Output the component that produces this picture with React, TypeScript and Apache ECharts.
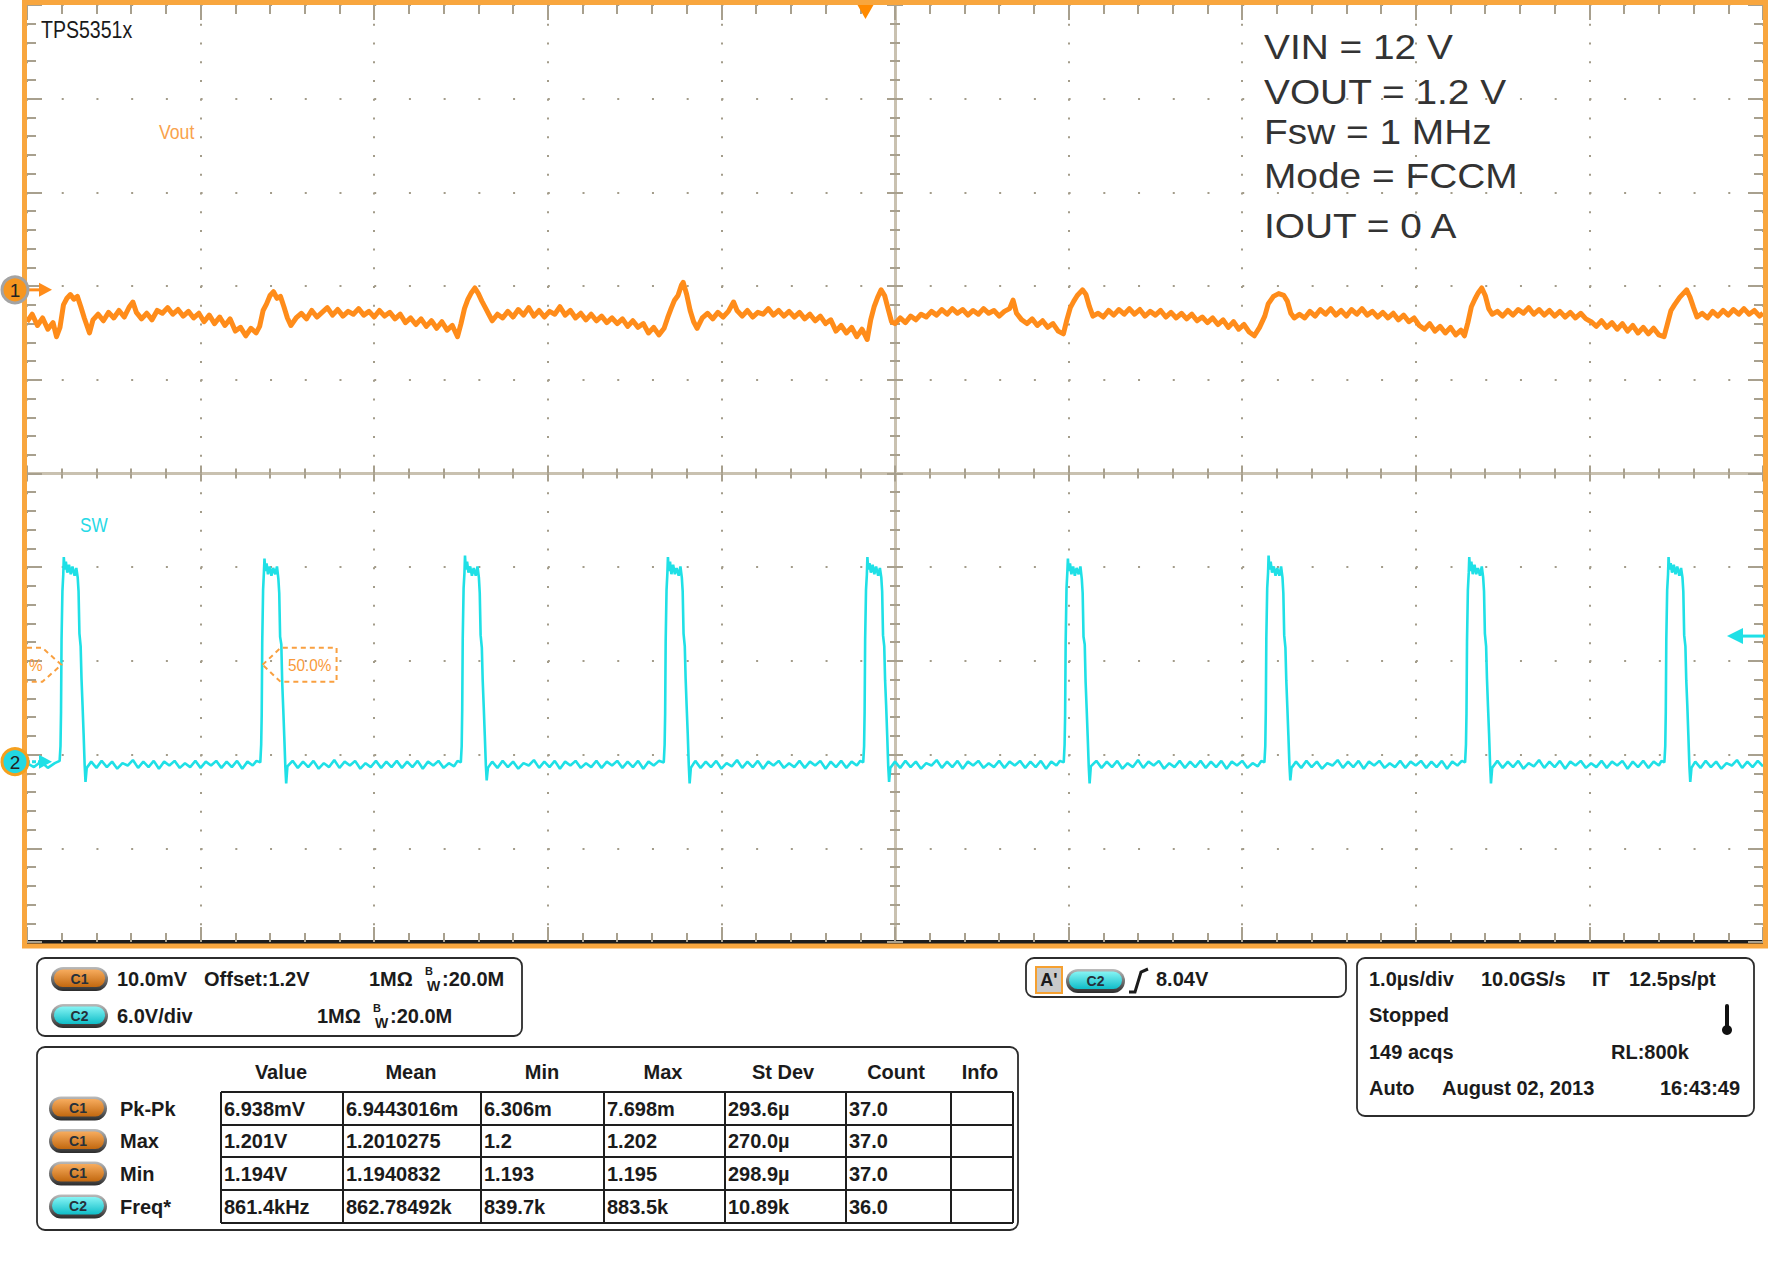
import React, { useEffect, useRef } from 'react';
import * as echarts from 'echarts';

// ---------------- data ----------------
const scopeTitle = 'TPS5351x';
const traceNames = ['Vout', 'SW'];
const conditionLines = ['VIN = 12 V', 'VOUT = 1.2 V', 'Fsw = 1 MHz', 'Mode = FCCM', 'IOUT = 0 A'];

// time axis: 1.0 µs/div, 10 divisions
const timeRangeUs = [0, 10];
// C1 (Vout): 10 mV/div, offset 1.2 V -> values in mV relative to 1.2 V
const voutRangeMv = [-69.6, 30.4];
// C2 (SW): 6 V/div
const swRangeV = [-11.55, 48.45];
const triggerTimeUs = 4.83;
const triggerLevelV = 8.04;
const refLevelV = 6.2;
const refCrossTimesUs = [0.198, 1.357];
const refLabel = '50.0%';

// Vout ripple [time µs, mV relative to 1.2 V]
const voutRippleMv = [
  [0.00,-3.4],[0.03,-2.6],[0.06,-3.8],[0.09,-3.0],[0.12,-4.2],[0.15,-3.5],[0.17,-5.0],[0.19,-4.0],
  [0.21,-1.6],[0.23,-0.9],[0.25,-0.5],[0.27,-1.0],[0.29,-0.7],[0.31,-1.8],[0.33,-3.0],[0.36,-4.6],
  [0.38,-3.2],[0.41,-2.6],[0.44,-3.3],[0.47,-2.4],[0.50,-3.0],[0.53,-2.2],[0.56,-2.9],[0.59,-1.8],
  [0.61,-1.3],[0.63,-2.4],[0.66,-3.1],[0.69,-2.5],[0.72,-3.2],[0.75,-2.2],[0.78,-2.5],[0.81,-1.9],
  [0.84,-2.6],[0.87,-2.1],[0.90,-2.8],[0.93,-2.3],[0.96,-3.0],[0.99,-2.5],[1.02,-3.4],[1.05,-2.7],
  [1.08,-3.6],[1.11,-2.9],[1.14,-3.8],[1.17,-3.1],[1.20,-4.4],[1.23,-4.0],[1.26,-4.9],[1.29,-4.1],
  [1.32,-4.6],[1.34,-3.9],[1.36,-2.2],[1.38,-1.5],[1.40,-0.6],[1.42,-0.2],[1.44,-0.9],[1.46,-0.7],
  [1.48,-1.8],[1.50,-3.0],[1.52,-3.8],[1.55,-3.0],[1.58,-2.5],[1.61,-3.1],[1.64,-2.2],[1.67,-2.9],
  [1.70,-2.4],[1.73,-1.9],[1.76,-2.7],[1.79,-2.1],[1.82,-2.8],[1.85,-2.3],[1.88,-2.6],[1.91,-2.0],
  [1.94,-2.7],[1.97,-2.3],[2.00,-2.9],[2.03,-2.2],[2.06,-2.8],[2.09,-2.4],[2.12,-3.1],[2.15,-2.6],
  [2.18,-3.5],[2.21,-3.0],[2.24,-3.7],[2.27,-3.1],[2.30,-3.9],[2.33,-3.3],[2.36,-4.1],[2.39,-3.4],
  [2.42,-4.3],[2.45,-3.8],[2.48,-5.0],[2.50,-3.6],[2.52,-2.0],[2.54,-1.0],[2.56,-0.3],[2.58,0.2],
  [2.60,-0.4],[2.62,-1.2],[2.64,-1.9],[2.66,-2.6],[2.68,-3.3],[2.71,-2.6],[2.74,-3.0],[2.77,-2.3],
  [2.80,-2.9],[2.83,-2.1],[2.86,-2.7],[2.89,-1.9],[2.92,-2.8],[2.95,-2.2],[2.98,-2.9],[3.01,-2.3],
  [3.04,-2.6],[3.07,-1.8],[3.10,-2.7],[3.13,-2.2],[3.16,-3.0],[3.19,-2.5],[3.22,-3.2],[3.25,-2.6],
  [3.28,-3.3],[3.31,-2.8],[3.34,-3.5],[3.37,-3.0],[3.40,-3.6],[3.43,-3.1],[3.46,-3.9],[3.49,-3.3],
  [3.52,-4.0],[3.55,-3.6],[3.58,-4.6],[3.61,-4.0],[3.64,-4.8],[3.67,-4.1],[3.69,-3.0],[3.71,-2.0],
  [3.73,-1.1],[3.75,-0.6],[3.77,0.5],[3.78,0.8],[3.80,-0.5],[3.82,-2.2],[3.84,-3.4],[3.86,-4.1],
  [3.89,-3.0],[3.92,-2.5],[3.95,-3.1],[3.98,-2.4],[4.01,-2.9],[4.04,-2.3],[4.07,-1.3],[4.09,-2.2],
  [4.12,-2.8],[4.15,-2.2],[4.18,-2.9],[4.21,-2.4],[4.24,-2.6],[4.27,-2.0],[4.30,-2.7],[4.33,-2.2],
  [4.36,-2.8],[4.39,-2.3],[4.42,-2.9],[4.45,-2.4],[4.48,-3.1],[4.51,-2.6],[4.54,-3.3],[4.57,-2.8],
  [4.60,-3.6],[4.63,-3.2],[4.66,-4.4],[4.69,-3.8],[4.72,-4.6],[4.75,-4.0],[4.78,-5.0],[4.81,-4.2],
  [4.84,-5.3],[4.86,-3.2],[4.88,-1.8],[4.90,-0.8],[4.92,0.0],[4.94,-0.6],[4.96,-2.0],[4.98,-3.4],
  [5.00,-3.6],[5.03,-3.0],[5.06,-3.5],[5.09,-2.8],[5.12,-3.2],[5.15,-2.6],[5.18,-2.9],[5.21,-2.3],
  [5.24,-2.7],[5.27,-2.1],[5.30,-2.6],[5.33,-2.0],[5.36,-2.5],[5.39,-2.1],[5.42,-2.7],[5.45,-2.2],
  [5.48,-2.6],[5.51,-2.0],[5.54,-2.5],[5.57,-2.2],[5.60,-2.8],[5.63,-2.3],[5.66,-2.0],[5.68,-1.1],
  [5.70,-2.5],[5.73,-3.2],[5.76,-3.6],[5.79,-3.1],[5.82,-3.8],[5.85,-3.3],[5.88,-4.0],[5.91,-3.6],
  [5.94,-4.4],[5.97,-4.7],[5.99,-3.2],[6.01,-1.9],[6.03,-1.2],[6.05,-0.6],[6.08,0.0],[6.10,-0.5],
  [6.12,-1.8],[6.14,-2.8],[6.17,-2.5],[6.20,-2.9],[6.23,-2.2],[6.26,-2.7],[6.29,-2.1],[6.32,-2.6],
  [6.35,-2.0],[6.38,-2.6],[6.41,-2.1],[6.44,-2.8],[6.47,-2.3],[6.50,-2.7],[6.53,-2.2],[6.56,-2.9],
  [6.59,-2.4],[6.62,-3.0],[6.65,-2.5],[6.68,-3.1],[6.71,-2.6],[6.74,-3.3],[6.77,-2.9],[6.80,-3.5],
  [6.83,-3.0],[6.86,-3.7],[6.89,-3.2],[6.92,-4.0],[6.95,-3.4],[6.98,-4.2],[7.01,-3.7],[7.04,-4.5],
  [7.07,-4.9],[7.10,-4.0],[7.13,-2.8],[7.15,-1.5],[7.18,-0.7],[7.21,-0.4],[7.24,-0.6],[7.26,-1.2],
  [7.28,-2.5],[7.30,-3.0],[7.33,-2.6],[7.36,-3.0],[7.39,-2.3],[7.42,-2.8],[7.45,-2.1],[7.48,-2.6],
  [7.51,-2.0],[7.54,-2.7],[7.57,-2.2],[7.60,-2.8],[7.63,-2.1],[7.66,-2.6],[7.69,-2.0],[7.72,-2.7],
  [7.75,-2.3],[7.78,-2.9],[7.81,-2.4],[7.84,-3.0],[7.87,-2.5],[7.90,-3.2],[7.93,-2.7],[7.96,-3.4],
  [7.99,-3.0],[8.02,-3.8],[8.05,-4.2],[8.08,-3.6],[8.11,-4.4],[8.14,-3.9],[8.17,-4.6],[8.20,-4.0],
  [8.23,-4.8],[8.26,-4.3],[8.28,-4.9],[8.30,-3.5],[8.32,-1.8],[8.34,-1.0],[8.36,-0.3],[8.38,0.2],
  [8.40,-0.6],[8.42,-2.0],[8.44,-2.6],[8.47,-2.3],[8.50,-2.8],[8.53,-2.2],[8.56,-2.7],[8.59,-2.1],
  [8.62,-2.5],[8.65,-1.9],[8.68,-2.6],[8.71,-2.1],[8.74,-2.7],[8.77,-2.2],[8.80,-2.8],[8.83,-2.3],
  [8.86,-2.9],[8.89,-2.4],[8.92,-3.0],[8.95,-2.5],[8.98,-3.1],[9.01,-3.4],[9.04,-3.9],[9.07,-3.3],
  [9.10,-4.0],[9.13,-3.5],[9.16,-4.2],[9.19,-3.6],[9.22,-4.4],[9.25,-3.8],[9.28,-4.6],[9.31,-4.0],
  [9.34,-4.7],[9.37,-4.1],[9.40,-4.8],[9.43,-5.0],[9.45,-3.6],[9.47,-2.2],[9.49,-1.6],[9.52,-0.8],
  [9.54,-0.4],[9.56,0.0],[9.58,-0.8],[9.60,-1.9],[9.62,-2.9],[9.65,-2.5],[9.68,-3.0],[9.71,-2.3],
  [9.74,-2.8],[9.77,-2.2],[9.80,-2.7],[9.83,-2.1],[9.86,-2.6],[9.89,-2.0],[9.92,-2.6],[9.95,-2.2],
  [9.98,-2.8],[10.00,-2.5],
];

// Switch node [time µs, V]
const swVolts = [
  [0.000,-0.1],[0.040,-0.35],[0.080,0.0],[0.120,-0.4],[0.160,-0.1],[0.188,0.05],
  [0.193,1.0],[0.196,3.2],[0.199,7.8],[0.204,10.9],[0.209,12.0],[0.212,13.1],[0.217,12.3],[0.224,12.8],
  [0.232,12.1],[0.242,12.6],[0.252,12.0],[0.262,12.5],[0.274,11.9],[0.284,12.4],[0.292,11.8],[0.297,10.9],
  [0.302,8.2],[0.309,7.4],[0.314,5.3],[0.320,3.6],[0.326,1.8],[0.332,-0.2],[0.337,-1.3],[0.344,-0.4],
  [0.37,0.0],[0.40,-0.4],[0.43,0.05],[0.46,-0.35],[0.49,0.0],[0.52,-0.45],[0.55,-0.1],[0.58,-0.25],[0.61,0.1],
  [0.64,-0.4],[0.67,0.0],[0.70,-0.35],[0.73,0.05],[0.76,-0.45],[0.79,0.0],[0.82,-0.25],[0.85,0.05],[0.88,-0.4],
  [0.91,-0.1],[0.94,-0.35],[0.97,0.05],[1.00,-0.4],[1.03,0.0],[1.06,-0.25],[1.09,0.05],[1.12,-0.4],[1.15,0.0],
  [1.18,-0.35],[1.21,0.05],[1.24,-0.45],[1.27,0.0],[1.30,-0.25],[1.322,0.05],[1.344,-0.05],
  [1.349,1.1],[1.352,3.0],[1.355,7.6],[1.360,11.0],[1.365,12.2],[1.368,13.0],[1.373,12.2],[1.380,12.7],
  [1.388,12.0],[1.398,12.5],[1.408,11.9],[1.418,12.4],[1.430,12.0],[1.440,12.5],[1.448,11.7],[1.453,10.8],
  [1.458,8.0],[1.465,7.5],[1.470,5.1],[1.476,3.4],[1.482,1.6],[1.488,-0.3],[1.493,-1.4],[1.500,-0.3],
  [1.53,0.05],[1.56,-0.4],[1.59,0.0],[1.62,-0.35],[1.65,0.05],[1.68,-0.45],[1.71,-0.1],[1.74,-0.35],[1.77,0.1],
  [1.80,-0.4],[1.83,0.0],[1.86,-0.25],[1.89,0.05],[1.92,-0.45],[1.95,-0.1],[1.98,-0.35],[2.01,0.05],[2.04,-0.4],
  [2.07,0.0],[2.10,-0.35],[2.13,0.05],[2.16,-0.4],[2.19,0.0],[2.22,-0.35],[2.25,0.05],[2.28,-0.45],[2.31,0.0],
  [2.34,-0.25],[2.37,0.05],[2.40,-0.4],[2.43,-0.1],[2.46,-0.3],[2.48,0.05],[2.499,-0.05],
  [2.504,1.0],[2.507,3.3],[2.510,7.9],[2.515,11.1],[2.520,12.1],[2.523,13.2],[2.528,12.3],[2.535,12.8],
  [2.543,12.1],[2.553,12.5],[2.563,11.9],[2.573,12.4],[2.585,11.9],[2.595,12.5],[2.603,11.8],[2.608,10.8],
  [2.613,8.1],[2.620,7.3],[2.625,5.2],[2.631,3.5],[2.637,1.7],[2.643,-0.2],[2.648,-1.2],[2.655,-0.4],
  [2.68,0.0],[2.71,-0.4],[2.74,0.05],[2.77,-0.35],[2.80,0.0],[2.83,-0.45],[2.86,-0.1],[2.89,-0.25],[2.92,0.1],
  [2.95,-0.4],[2.98,0.0],[3.01,-0.35],[3.04,0.05],[3.07,-0.45],[3.10,0.0],[3.13,-0.25],[3.16,0.05],[3.19,-0.4],
  [3.22,-0.1],[3.25,-0.35],[3.28,0.05],[3.31,-0.4],[3.34,0.0],[3.37,-0.25],[3.40,0.05],[3.43,-0.4],[3.46,0.0],
  [3.49,-0.35],[3.52,0.05],[3.55,-0.45],[3.58,0.0],[3.61,-0.25],[3.64,0.05],[3.668,-0.05],
  [3.673,1.1],[3.676,3.1],[3.679,7.7],[3.684,11.0],[3.689,12.1],[3.692,13.1],[3.697,12.2],[3.704,12.8],
  [3.712,12.0],[3.722,12.6],[3.732,12.0],[3.742,12.4],[3.754,11.9],[3.764,12.5],[3.772,11.8],[3.777,10.9],
  [3.782,8.2],[3.789,7.4],[3.794,5.3],[3.800,3.5],[3.806,1.8],[3.812,-0.2],[3.817,-1.4],[3.824,-0.4],
  [3.85,0.05],[3.88,-0.4],[3.91,0.0],[3.94,-0.35],[3.97,0.05],[4.00,-0.45],[4.03,-0.1],[4.06,-0.3],[4.09,0.1],
  [4.12,-0.4],[4.15,0.0],[4.18,-0.35],[4.21,0.05],[4.24,-0.45],[4.27,0.0],[4.30,-0.25],[4.33,0.05],[4.36,-0.4],
  [4.39,-0.1],[4.42,-0.35],[4.45,0.05],[4.48,-0.4],[4.51,0.0],[4.54,-0.25],[4.57,0.05],[4.60,-0.45],[4.63,0.0],
  [4.66,-0.35],[4.69,0.05],[4.72,-0.4],[4.75,0.0],[4.78,-0.25],[4.80,0.05],[4.817,-0.05],
  [4.822,1.0],[4.825,3.2],[4.828,7.8],[4.833,11.0],[4.838,12.0],[4.841,13.1],[4.846,12.3],[4.853,12.7],
  [4.861,12.1],[4.871,12.6],[4.881,12.0],[4.891,12.5],[4.903,11.9],[4.913,12.4],[4.921,11.8],[4.926,10.9],
  [4.931,8.1],[4.938,7.4],[4.943,5.2],[4.949,3.6],[4.955,1.7],[4.961,-0.3],[4.966,-1.3],[4.973,-0.4],
  [5.00,0.0],[5.03,-0.4],[5.06,0.05],[5.09,-0.35],[5.12,0.0],[5.15,-0.45],[5.18,-0.1],[5.21,-0.25],[5.24,0.1],
  [5.27,-0.4],[5.30,0.0],[5.33,-0.35],[5.36,0.05],[5.39,-0.45],[5.42,0.0],[5.45,-0.25],[5.48,0.05],[5.51,-0.4],
  [5.54,-0.1],[5.57,-0.35],[5.60,0.05],[5.63,-0.4],[5.66,0.0],[5.69,-0.25],[5.72,0.05],[5.75,-0.4],[5.78,0.0],
  [5.81,-0.35],[5.84,0.05],[5.87,-0.45],[5.90,0.0],[5.93,-0.25],[5.95,0.05],[5.972,-0.05],
  [5.977,1.1],[5.980,3.0],[5.983,7.6],[5.988,11.1],[5.993,12.2],[5.996,13.0],[6.001,12.2],[6.008,12.7],
  [6.016,12.0],[6.026,12.5],[6.036,11.9],[6.046,12.4],[6.058,12.0],[6.068,12.5],[6.076,11.7],[6.081,10.8],
  [6.086,8.0],[6.093,7.5],[6.098,5.1],[6.104,3.4],[6.110,1.6],[6.116,-0.3],[6.121,-1.4],[6.128,-0.3],
  [6.16,0.05],[6.19,-0.4],[6.22,0.0],[6.25,-0.35],[6.28,0.05],[6.31,-0.45],[6.34,-0.1],[6.37,-0.35],[6.40,0.1],
  [6.43,-0.4],[6.46,0.0],[6.49,-0.25],[6.52,0.05],[6.55,-0.45],[6.58,-0.1],[6.61,-0.35],[6.64,0.05],[6.67,-0.4],
  [6.70,0.0],[6.73,-0.35],[6.76,0.05],[6.79,-0.4],[6.82,0.0],[6.85,-0.35],[6.88,0.05],[6.91,-0.45],[6.94,0.0],
  [6.97,-0.25],[7.00,0.05],[7.03,-0.4],[7.06,-0.1],[7.09,-0.3],[7.11,0.05],[7.128,-0.05],
  [7.133,1.0],[7.136,3.3],[7.139,7.9],[7.144,11.1],[7.149,12.1],[7.152,13.2],[7.157,12.3],[7.164,12.8],
  [7.172,12.1],[7.182,12.5],[7.192,11.9],[7.202,12.4],[7.214,11.9],[7.224,12.5],[7.232,11.8],[7.237,10.8],
  [7.242,8.1],[7.249,7.3],[7.254,5.2],[7.260,3.5],[7.266,1.7],[7.272,-0.2],[7.277,-1.2],[7.284,-0.4],
  [7.31,0.0],[7.34,-0.4],[7.37,0.05],[7.40,-0.35],[7.43,0.0],[7.46,-0.45],[7.49,-0.1],[7.52,-0.25],[7.55,0.1],
  [7.58,-0.4],[7.61,0.0],[7.64,-0.35],[7.67,0.05],[7.70,-0.45],[7.73,0.0],[7.76,-0.25],[7.79,0.05],[7.82,-0.4],
  [7.85,-0.1],[7.88,-0.35],[7.91,0.05],[7.94,-0.4],[7.97,0.0],[8.00,-0.25],[8.03,0.05],[8.06,-0.4],[8.09,0.0],
  [8.12,-0.35],[8.15,0.05],[8.18,-0.45],[8.21,0.0],[8.24,-0.25],[8.265,0.05],[8.284,-0.05],
  [8.289,1.1],[8.292,3.1],[8.295,7.7],[8.300,11.0],[8.305,12.1],[8.308,13.1],[8.313,12.2],[8.320,12.8],
  [8.328,12.0],[8.338,12.6],[8.348,12.0],[8.358,12.4],[8.370,11.9],[8.380,12.5],[8.388,11.8],[8.393,10.9],
  [8.398,8.2],[8.405,7.4],[8.410,5.3],[8.416,3.5],[8.422,1.8],[8.428,-0.2],[8.433,-1.4],[8.440,-0.4],
  [8.47,0.05],[8.50,-0.4],[8.53,0.0],[8.56,-0.35],[8.59,0.05],[8.62,-0.45],[8.65,-0.1],[8.68,-0.3],[8.71,0.1],
  [8.74,-0.4],[8.77,0.0],[8.80,-0.35],[8.83,0.05],[8.86,-0.45],[8.89,0.0],[8.92,-0.25],[8.95,0.05],[8.98,-0.4],
  [9.01,-0.1],[9.04,-0.35],[9.07,0.05],[9.10,-0.4],[9.13,0.0],[9.16,-0.25],[9.19,0.05],[9.22,-0.45],[9.25,0.0],
  [9.28,-0.35],[9.31,0.05],[9.34,-0.4],[9.37,0.0],[9.40,-0.25],[9.415,0.05],[9.432,-0.05],
  [9.437,1.0],[9.440,3.2],[9.443,7.8],[9.448,11.0],[9.453,12.0],[9.456,13.1],[9.461,12.3],[9.468,12.7],
  [9.476,12.1],[9.486,12.6],[9.496,12.0],[9.506,12.5],[9.518,11.9],[9.528,12.4],[9.536,11.8],[9.541,10.9],
  [9.546,8.1],[9.553,7.4],[9.558,5.2],[9.564,3.6],[9.570,1.7],[9.576,-0.3],[9.581,-1.3],[9.588,-0.4],
  [9.61,0.0],[9.64,-0.4],[9.67,0.05],[9.70,-0.35],[9.73,0.0],[9.76,-0.45],[9.79,-0.1],[9.82,-0.25],[9.85,0.1],
  [9.88,-0.4],[9.91,0.0],[9.94,-0.35],[9.97,0.05],[10.00,-0.3],
];

// Readout panels
const ch1Setup = ['10.0mV', 'Offset:1.2V', '1MΩ', ':20.0M'];
const ch2Setup = ['6.0V/div', '1MΩ', ':20.0M'];
const triggerReadout = ["A'", 'C2', '8.04V'];
const acqRows = [
  ['1.0µs/div', '10.0GS/s', 'IT', '12.5ps/pt'],
  ['Stopped'],
  ['149 acqs', 'RL:800k'],
  ['Auto', 'August 02, 2013', '16:43:49'],
];
const measureHeaders = ['Value', 'Mean', 'Min', 'Max', 'St Dev', 'Count', 'Info'];
const measureChannels = ['C1', 'C1', 'C1', 'C2'];
const measureNames = ['Pk-Pk', 'Max', 'Min', 'Freq*'];
const measureValues = [
  ['6.938mV', '6.9443016m', '6.306m', '7.698m', '293.6µ', '37.0', ''],
  ['1.201V', '1.2010275', '1.2', '1.202', '270.0µ', '37.0', ''],
  ['1.194V', '1.1940832', '1.193', '1.195', '298.9µ', '37.0', ''],
  ['861.4kHz', '862.78492k', '839.7k', '883.5k', '10.89k', '36.0', ''],
];

// ---------------- styling / layout ----------------
const FONT = '"Liberation Sans", Arial, Helvetica, sans-serif';
const ORANGE = '#FF8C1A';
const CYAN = '#1FE0E6';
const FRAME = '#F8A63E';
const DOT = '#A39C8A';
const TICK = '#A8A08E';
const CENTER = '#C9C1B0';
const GRID = { left: 27, top: 5, width: 1736, height: 937 };

const tickSet = (inside: boolean, len: number, minorLen: number) => ({
  axisTick: { show: true, inside, length: len, lineStyle: { color: TICK, width: 2 } },
  minorTick: { show: true, splitNumber: 5, length: minorLen, lineStyle: { color: TICK, width: 2 } },
});
const divAxis = (extra: any) => ({
  type: 'value', min: -5, max: 5, interval: 1,
  axisLabel: { show: false }, splitLine: { show: false }, ...extra,
});

function txt(text: string, x: number, y: number, o: any = {}) {
  return {
    type: 'text', x, y, z: o.z ?? 60, scaleX: o.scaleX ?? 1,
    style: {
      text, x: 0, y: 0,
      font: `${o.weight ?? 'bold'} ${o.size ?? 20}px ${FONT}`,
      fill: o.color ?? '#1b1b1b',
      align: o.align ?? 'left', verticalAlign: 'middle',
    },
  };
}

function pill(x: number, y: number, w: number, h: number, label: string, tone: string) {
  const inner = tone === 'orange' ? ['#F7AC5E', '#C2680F'] : ['#86F4F4', '#0FBDC8'];
  return [
    { type: 'rect', z: 61, shape: { x, y, width: w, height: h, r: h / 2 },
      style: { fill: new echarts.graphic.LinearGradient(0, 0, 0, 1, [{ offset: 0, color: '#BDBDBD' }, { offset: 1, color: '#2B2B2B' }]) } },
    { type: 'rect', z: 62, shape: { x: x + 3, y: y + 2.5, width: w - 6, height: h - 6.5, r: (h - 6.5) / 2 },
      style: { fill: new echarts.graphic.LinearGradient(0, 0, 0, 1, [{ offset: 0, color: inner[0] }, { offset: 1, color: inner[1] }]) } },
    { type: 'text', z: 63, style: { text: label, x: x + w / 2, y: y + h / 2 - 0.5, align: 'center', verticalAlign: 'middle', font: `bold 14px ${FONT}`, fill: '#26303a' } },
  ];
}

function panel(x: number, y: number, w: number, h: number) {
  return { type: 'rect', z: 55, shape: { x, y, width: w, height: h, r: 8 }, style: { fill: '#fff', stroke: '#2c2c2c', lineWidth: 1.8 } };
}

function hline(x1: number, x2: number, y: number, color = '#1e1e1e', w = 2) {
  return { type: 'line', z: 58, shape: { x1, y1: y, x2, y2: y }, style: { stroke: color, lineWidth: w } };
}
function vline(x: number, y1: number, y2: number, color = '#1e1e1e', w = 2) {
  return { type: 'line', z: 58, shape: { x1: x, y1, x2: x, y2 }, style: { stroke: color, lineWidth: w } };
}

// "B" raised and "W" lowered, as the scope draws its bandwidth-limit mark
function bwLabel(x: number, y: number, rest: string) {
  return [
    txt('B', x, y - 8, { size: 11 }),
    txt('W', x + 2, y + 7, { size: 14 }),
    txt(rest, x + 17, y, { size: 20 }),
  ];
}

export default function App() {
  const ref = useRef<HTMLDivElement>(null);

  useEffect(() => {
    const chart = echarts.init(ref.current!, null, { renderer: 'svg' });
    const option: any = {
      animation: false,
      backgroundColor: '#ffffff',
      grid: { ...GRID, show: false },
      xAxis: [
        divAxis({
          position: 'bottom',
          axisLine: { show: true, onZero: false, lineStyle: { color: '#1c1c1c', width: 4 } },
          ...tickSet(true, 15, 9),
          splitLine: { show: true, lineStyle: { color: DOT, width: 2, type: [2, GRID.height / 50 - 2] } },
        }),
        divAxis({ position: 'top', axisLine: { show: false, onZero: false }, ...tickSet(true, 15, 9) }),
        divAxis({ position: 'bottom', axisLine: { show: true, onZero: true, onZeroAxisIndex: 0, lineStyle: { color: CENTER, width: 3 } }, ...tickSet(true, 8, 5) }),
        divAxis({ position: 'bottom', axisLine: { show: true, onZero: true, onZeroAxisIndex: 0, lineStyle: { color: CENTER, width: 3 } }, ...tickSet(false, 8, 5) }),
        { type: 'value', min: timeRangeUs[0], max: timeRangeUs[1], show: false, splitLine: { show: false } },
      ],
      yAxis: [
        divAxis({
          position: 'left',
          axisLine: { show: false, onZero: false },
          ...tickSet(true, 15, 9),
          splitLine: { show: true, lineStyle: { color: DOT, width: 2, type: [2, GRID.width / 50 - 2] } },
        }),
        divAxis({ position: 'right', axisLine: { show: false, onZero: false }, ...tickSet(true, 15, 9) }),
        divAxis({ position: 'left', axisLine: { show: true, onZero: true, onZeroAxisIndex: 0, lineStyle: { color: CENTER, width: 3 } }, ...tickSet(true, 8, 5) }),
        divAxis({ position: 'left', axisLine: { show: true, onZero: true, onZeroAxisIndex: 0, lineStyle: { color: CENTER, width: 3 } }, ...tickSet(false, 8, 5) }),
        { type: 'value', min: swRangeV[0], max: swRangeV[1], show: false, splitLine: { show: false } },
        { type: 'value', min: voutRangeMv[0], max: voutRangeMv[1], show: false, splitLine: { show: false } },
      ],
      series: [
        {
          name: traceNames[0], type: 'line', xAxisIndex: 4, yAxisIndex: 5, data: voutRippleMv,
          symbol: 'none', silent: true, z: 5, lineStyle: { color: ORANGE, width: 5, join: 'round' },
        },
        {
          name: traceNames[1], type: 'line', xAxisIndex: 4, yAxisIndex: 4, data: swVolts,
          symbol: 'none', silent: true, z: 5, lineStyle: { color: CYAN, width: 2.6 },
        },
      ],
    };
    chart.setOption(option);

    const px = (t: number) => chart.convertToPixel({ xAxisIndex: 4 }, t) as number;
    const ySw = (v: number) => chart.convertToPixel({ yAxisIndex: 4 }, v) as number;
    const yVo = (v: number) => chart.convertToPixel({ yAxisIndex: 5 }, v) as number;

    const y1 = yVo(0);
    const y2 = ySw(0);
    const trigX = px(triggerTimeUs);
    const trigY = ySw(triggerLevelV);
    const refY = ySw(refLevelV);
    const refX0 = px(refCrossTimesUs[0]);
    const refX1 = px(refCrossTimesUs[1]);
    const gl = GRID.left, gr = GRID.left + GRID.width, gt = GRID.top, gb = GRID.top + GRID.height;

    const g: any[] = [];
    // frame
    g.push({ type: 'rect', z: 50, shape: { x: gl - 2.5, y: 2.5, width: gr - gl + 5, height: gb + 1.5 }, style: { fill: 'none', stroke: FRAME, lineWidth: 5 } });

    // in-plot labels
    g.push(txt(scopeTitle, 41, 30, { weight: 'normal', size: 23, scaleX: 0.85, color: '#1a1a1a' }));
    g.push(txt(traceNames[0], 159, 131, { weight: 'normal', size: 21, scaleX: 0.84, color: '#F9A24C' }));
    g.push(txt(traceNames[1], 80, 525, { weight: 'normal', size: 21, scaleX: 0.82, color: '#27D9E6' }));
    const condY = [47.5, 92, 132, 176.5, 226];
    conditionLines.forEach((s, i) => g.push(txt(s, 1264, condY[i], { weight: 'normal', size: 35, scaleX: 1.11, color: '#333333' })));

    // channel 1 marker
    g.push({ type: 'line', z: 62, shape: { x1: 26, y1: y1, x2: 42, y2: y1 }, style: { stroke: ORANGE, lineWidth: 3 } });
    g.push({ type: 'polygon', z: 62, shape: { points: [[39, y1 - 7], [52, y1], [39, y1 + 7]] }, style: { fill: ORANGE } });
    g.push({ type: 'circle', z: 63, shape: { cx: 15, cy: y1, r: 13 }, style: { fill: '#F7961F', stroke: '#A3A3A3', lineWidth: 3 } });
    g.push(txt('1', 15, y1 + 1, { weight: 'normal', size: 19, align: 'center', color: '#222', z: 65 }));
    // channel 2 marker
    g.push({ type: 'line', z: 62, shape: { x1: 26, y1: y2, x2: 42, y2: y2 }, style: { stroke: CYAN, lineWidth: 3, lineDash: [4, 2] } });
    g.push({ type: 'polygon', z: 62, shape: { points: [[39, y2 - 7], [52, y2], [39, y2 + 7]] }, style: { fill: CYAN } });
    g.push({ type: 'circle', z: 63, shape: { cx: 15, cy: y2, r: 13 }, style: { fill: '#22D8E2', stroke: '#F5A01E', lineWidth: 3 } });
    g.push(txt('2', 15, y2 + 1, { weight: 'normal', size: 19, align: 'center', color: '#222', z: 65 }));

    // trigger position and level
    g.push({ type: 'polygon', z: 62, shape: { points: [[trigX - 8, gt], [trigX + 8, gt], [trigX, gt + 14]] }, style: { fill: '#FF8A00' } });
    g.push({ type: 'line', z: 62, shape: { x1: 1740, y1: trigY, x2: gr + 2, y2: trigY }, style: { stroke: CYAN, lineWidth: 3 } });
    g.push({ type: 'polygon', z: 62, shape: { points: [[1727, trigY], [1743, trigY - 8], [1743, trigY + 8]] }, style: { fill: CYAN } });

    // 50% reference labels
    const dash = { stroke: '#F9A040', lineWidth: 2, lineDash: [5, 4], fill: 'none' };
    g.push({ type: 'polyline', z: 40, shape: { points: [[gl, refY - 17], [refX0 - 19, refY - 17], [refX0, refY], [refX0 - 19, refY + 17], [gl, refY + 17]] }, style: dash });
    g.push(txt('%', 29, refY, { weight: 'normal', size: 17, scaleX: 0.9, color: '#F99A3A' }));
    g.push({ type: 'polygon', z: 40, shape: { points: [[refX1, refY], [refX1 + 18, refY - 17], [refX1 + 74, refY - 17], [refX1 + 74, refY + 17], [refX1 + 18, refY + 17]] }, style: dash });
    g.push(txt(refLabel, refX1 + 47, refY, { weight: 'normal', size: 17, scaleX: 0.9, align: 'center', color: '#F99A3A' }));

    // ---- Panel A: channel setup
    g.push(panel(37, 958, 485, 78));
    g.push(...pill(51, 967, 57, 24, 'C1', 'orange'));
    g.push(...pill(51, 1004, 57, 24, 'C2', 'cyan'));
    g.push(txt(ch1Setup[0], 117, 979));
    g.push(txt(ch1Setup[1], 204, 979));
    g.push(txt(ch1Setup[2], 369, 979));
    g.push(...bwLabel(425, 979, ch1Setup[3]));
    g.push(txt(ch2Setup[0], 117, 1016));
    g.push(txt(ch2Setup[1], 317, 1016));
    g.push(...bwLabel(373, 1016, ch2Setup[2]));

    // ---- Panel B: trigger
    g.push(panel(1026, 958, 320, 39));
    g.push({ type: 'rect', z: 60, shape: { x: 1036, y: 967, width: 26, height: 26 }, style: { fill: '#C9C9C9', stroke: '#F5A030', lineWidth: 2 } });
    g.push(txt(triggerReadout[0], 1049, 980, { align: 'center', size: 18 }));
    g.push(...pill(1066, 969, 59, 24, triggerReadout[1], 'cyan'));
    g.push({ type: 'polyline', z: 60, shape: { points: [[1129, 992], [1135, 992], [1141, 972], [1148, 969]] }, style: { stroke: '#1b1b1b', lineWidth: 3, fill: 'none' } });
    g.push(txt(triggerReadout[2], 1156, 979));

    // ---- Panel C: acquisition
    g.push(panel(1357, 958, 397, 158));
    const acqY = [979, 1015, 1052, 1088];
    const acqX = [[1369, 1481, 1592, 1629], [1369], [1369, 1611], [1369, 1442, 1660]];
    acqRows.forEach((row, r) => row.forEach((s, c) => g.push(txt(s, acqX[r][c], acqY[r]))));
    g.push({ type: 'line', z: 60, shape: { x1: 1727, y1: 1006, x2: 1727, y2: 1028 }, style: { stroke: '#111', lineWidth: 4, lineCap: 'round' } });
    g.push({ type: 'circle', z: 60, shape: { cx: 1727, cy: 1030, r: 5 }, style: { fill: '#111' } });

    // ---- Panel D: measurements
    g.push(panel(37, 1047, 981, 183));
    const colX = [221, 343, 481, 604, 725, 846, 951, 1013];
    const rowY = [1092, 1125, 1157, 1190, 1223];
    const headerX = [281, 411, 542, 663, 783, 896, 980];
    measureHeaders.forEach((h, i) => g.push(txt(h, headerX[i], 1072, { align: 'center' })));
    rowY.forEach((y) => g.push(hline(colX[0], colX[colX.length - 1], y)));
    colX.forEach((x) => g.push(vline(x, rowY[0], rowY[rowY.length - 1])));
    measureValues.forEach((row, r) => {
      const cy = (rowY[r] + rowY[r + 1]) / 2;
      g.push(...pill(49, cy - 12, 58, 24, measureChannels[r], measureChannels[r] === 'C1' ? 'orange' : 'cyan'));
      g.push(txt(measureNames[r], 120, cy));
      row.forEach((s, c) => { if (s) g.push(txt(s, colX[c] + 3, cy)); });
    });

    chart.setOption({ graphic: g });
    return () => chart.dispose();
  }, []);

  return <div ref={ref} style={{ position: 'absolute', left: 0, top: 0, width: 1777, height: 1277, background: '#fff' }} />;
}
